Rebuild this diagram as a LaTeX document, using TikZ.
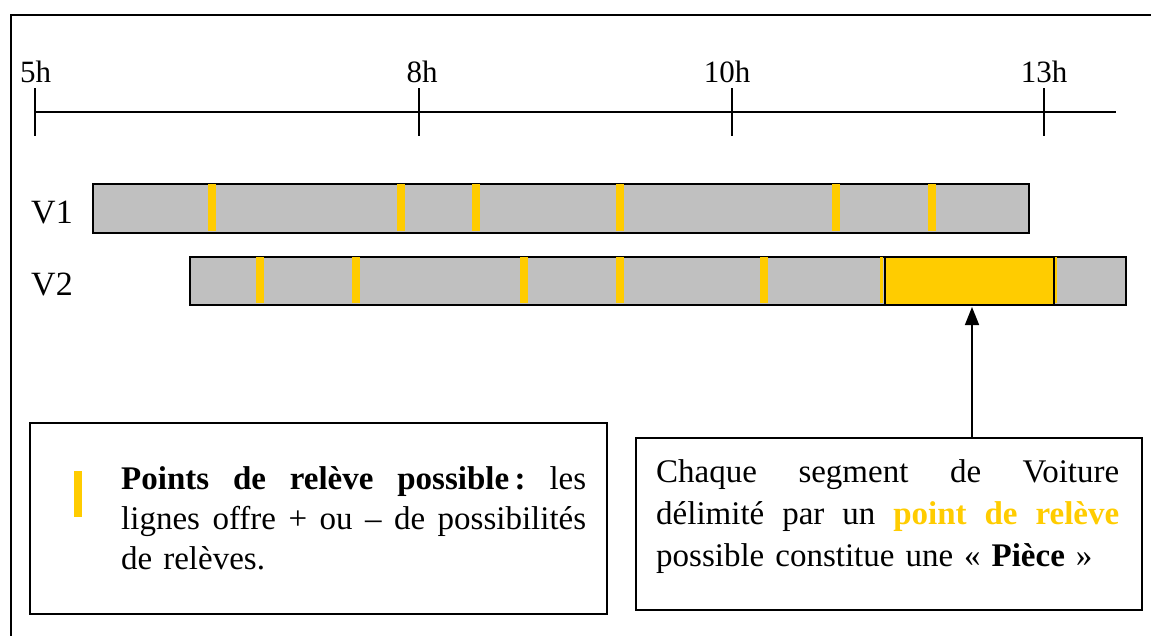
\documentclass[tikz,border=0pt]{standalone}
\usepackage{fontspec}
\setmainfont{Liberation Serif}
\usetikzlibrary{arrows.meta,calc}
\definecolor{relyellow}{HTML}{FFCC00}
\definecolor{bargray}{HTML}{C0C0C0}
\newcommand{\fullline}[2]{\leavevmode\hbox to #1{#2}}
\begin{document}
\begin{tikzpicture}[x=1pt,y=-1pt,
  frameline/.style={line width=2pt},
  axisline/.style={line width=1.8pt},
  bar/.style={draw=black,line width=2pt,fill=bargray,inner sep=0pt,anchor=north west},
  relmark/.style={fill=relyellow},
  piecebox/.style={draw=black,line width=2pt,fill=relyellow,inner sep=0pt,anchor=north west},
  notebox/.style={draw=black,line width=1.8pt,inner sep=0pt,anchor=north west},
  axislabel/.style={font=\fontsize{31}{34}\selectfont,anchor=base,inner sep=0pt},
  vlabel/.style={font=\fontsize{34}{36}\selectfont,anchor=base,inner sep=0pt},
  notetext/.style={inner sep=0pt,anchor=base west,text width=466pt}
]
\useasboundingbox (0,0) rectangle (1151,635);
% outer frame
\draw[frameline] (11,640) -- (11,15) -- (1160,15);
% time axis
\coordinate (axstart) at (35,112);
\coordinate (axend) at (1116,112);
\draw[axisline] (axstart) -- (axend);
\foreach \x/\lx/\l/\n in {35/35.5/5h/t5, 419/422/8h/t8, 732/727/10h/t10, 1044/1044/13h/t13}{
  \draw[axisline] (\x,88) -- (\x,136);
  \node[axislabel] (\n) at (\lx,82) {\l};
}
% vehicle labels
\node[vlabel] (lv1) at (52,223) {V1};
\node[vlabel] (lv2) at (52,295) {V2};
% bars
\node[bar,minimum width=936pt,minimum height=49pt] (v1) at (92,183) {};
\node[bar,minimum width=936pt,minimum height=48pt] (v2) at (189,256) {};
\foreach \x in {212,401,476,620,836,932}{
  \fill[relmark] (\x-4,184) rectangle (\x+4,231);
}
\foreach \x in {260,356,524,620,764}{
  \fill[relmark] (\x-4,257) rectangle (\x+4,303);
}
\fill[relmark] (880,257) rectangle (883,303);
\fill[relmark] (1054,257) rectangle (1057,303);
% piece
\node[piecebox,minimum width=169pt,minimum height=48pt] (piece) at (884,256) {};
% legend box
\node[notebox,minimum width=577pt,minimum height=191pt] (legend) at (29,422) {};
\fill[relmark] (74,471) rectangle (82,517);
\node[notetext,font=\fontsize{33}{40}\selectfont] (legendtext) at (121,489) {%
\fullline{465pt}{\textbf{Points}\hfill\textbf{de}\hfill\textbf{relève}\hfill\textbf{possible\,:}\hfill les}\\
\fullline{465pt}{lignes\hfill offre\hfill +\hfill ou\hfill –\hfill de\hfill possibilités}\\
de relèves.};
% note box
\node[notetext,font=\fontsize{33}{42}\selectfont] (notetext) at (656,482) {%
\fullline{463pt}{Chaque\hfill segment\hfill de\hfill Voiture}\\
\fullline{463pt}{délimité\hfill par\hfill un\hfill \textcolor{relyellow}{\textbf{point\hfill de\hfill relève}}}\\
possible constitue une «~\textbf{Pièce}~»};
\node[notebox,minimum width=506pt,minimum height=172pt] (note) at (635,437) {};
% arrow
\coordinate (arrowtip) at ($(piece.south)+(2.5,1)$);
\draw[line width=1.6pt,-{Triangle[width=14pt,length=18pt]}] (note.north -| arrowtip) -- (arrowtip);
\end{tikzpicture}
\end{document}
